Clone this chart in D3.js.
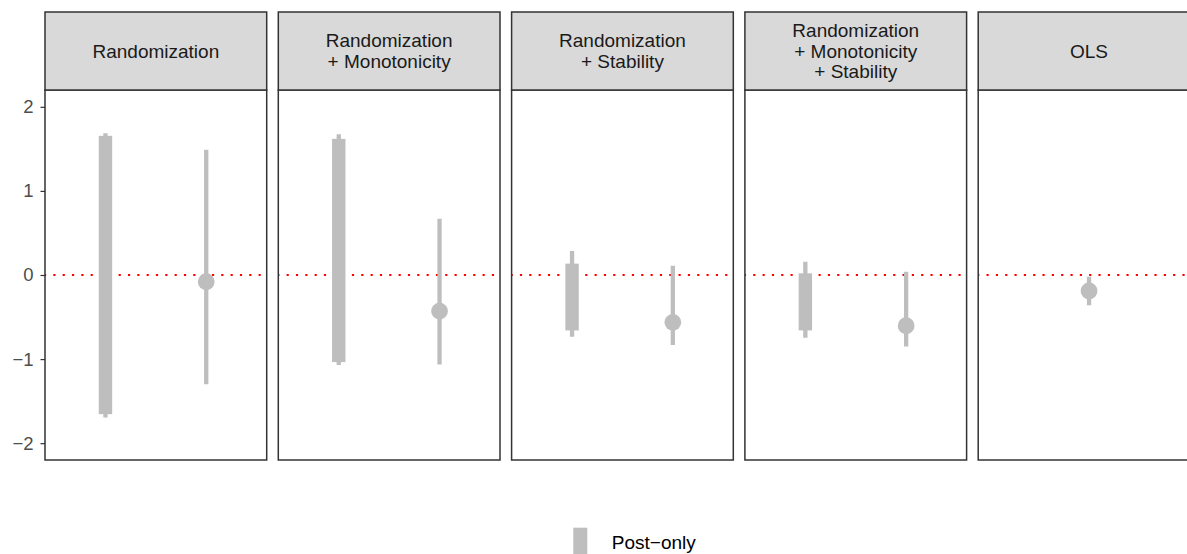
<!DOCTYPE html>
<html>
<head>
<meta charset="utf-8">
<script src="https://cdn.jsdelivr.net/npm/d3@7"></script>
<style>
  body { margin: 0; background: #fff; }
  svg { display: block; font-family: "Liberation Sans", Arial, Helvetica, sans-serif; }
</style>
</head>
<body>
<div id="chart"></div>
<script>
'use strict';

// facet labels (one line per array entry)
const methods = ['Randomization', 'Randomization + Monotonicity', 'Randomization + Stability',
    'Randomization + Monotonicity + Stability', 'OLS'];
const stripLines = [
    ['Randomization'],
    ['Randomization', '+ Monotonicity'],
    ['Randomization', '+ Stability'],
    ['Randomization', '+ Monotonicity', '+ Stability'],
    ['OLS']
];

// identified set (thick bar) and its confidence interval (thin whisker)
const boundLow = [-1.655, -1.036, -0.659, -0.659, null];
const boundHigh = [1.655, 1.619, 0.135, 0.02, null];
const boundCiLow = [-1.695, -1.071, -0.734, -0.746, null];
const boundCiHigh = [1.687, 1.675, 0.286, 0.159, null];

// point estimate with confidence interval
const pointEst = [-0.08, -0.429, -0.563, -0.603, -0.19];
const pointLow = [-1.30, -1.063, -0.833, -0.849, -0.36];
const pointHigh = [1.488, 0.67, 0.111, 0.04, -0.02];

const yTicks = [-2, -1, 0, 1, 2];
const legendLabel = 'Post\u2212only';

const width = 1187;
const height = 554;
const panel = { left: 45, top: 90, bottom: 460, width: 221.7, gap: 11.6 };
const strip = { top: 12, bottom: 90 };
const grey = '#bebebe';
const frame = '#333333';

const svg = d3.select('#chart')
    .append('svg')
    .attr('width', width)
    .attr('height', height);

const yScale = d3.scaleLinear()
    .domain([-2.2, 2.2])
    .range([panel.bottom, panel.top]);

const facetX = d3.scaleBand()
    .domain(methods)
    .range([panel.left, panel.left + methods.length * (panel.width + panel.gap)])
    .paddingInner(0);

const rows = methods.map(function (m, i) {
    return {
        method: m,
        lines: stripLines[i],
        boundLow: boundLow[i],
        boundHigh: boundHigh[i],
        boundCiLow: boundCiLow[i],
        boundCiHigh: boundCiHigh[i],
        est: pointEst[i],
        low: pointLow[i],
        high: pointHigh[i]
    };
});

const defs = svg.append('defs');

rows.forEach(function (d, i) {
    const x0 = facetX(d.method);
    const hasBounds = d.boundLow !== null;
    const xScale = d3.scalePoint()
        .domain(hasBounds ? ['bounds', 'estimate'] : ['estimate'])
        .range([0, panel.width])
        .padding(0.6);

    defs.append('clipPath')
        .attr('id', 'clip' + i)
        .append('rect')
        .attr('y', panel.top)
        .attr('width', panel.width)
        .attr('height', panel.bottom - panel.top);

    const g = svg.append('g')
        .attr('transform', `translate(${x0},${panel.top})`);

    const plot = g.append('g')
        .attr('transform', `translate(0,${-panel.top})`)
        .append('g')
        .attr('clip-path', `url(#clip${i})`);

    plot.append('line')
        .attr('x1', 0)
        .attr('x2', panel.width)
        .attr('y1', yScale(0))
        .attr('y2', yScale(0))
        .attr('stroke', '#ff0000')
        .attr('stroke-width', 2.2)
        .attr('stroke-dasharray', '2.2,7.13')
        .attr('stroke-dashoffset', -8.3);

    if (hasBounds) {
        const bx = xScale('bounds');
        plot.append('line')
            .attr('x1', bx)
            .attr('x2', bx)
            .attr('y1', yScale(d.boundCiLow))
            .attr('y2', yScale(d.boundCiHigh))
            .attr('stroke', grey)
            .attr('stroke-width', 4.3);
        plot.append('rect')
            .attr('x', bx - 6.7)
            .attr('width', 13.4)
            .attr('y', yScale(d.boundHigh))
            .attr('height', yScale(d.boundLow) - yScale(d.boundHigh))
            .attr('fill', grey);
    }

    const px = xScale('estimate');
    plot.append('line')
        .attr('x1', px)
        .attr('x2', px)
        .attr('y1', yScale(d.low))
        .attr('y2', yScale(d.high))
        .attr('stroke', grey)
        .attr('stroke-width', 4.3);
    plot.append('circle')
        .attr('cx', px)
        .attr('cy', yScale(d.est))
        .attr('r', 8.4)
        .attr('fill', grey);

    g.append('rect')
        .attr('width', panel.width)
        .attr('height', panel.bottom - panel.top)
        .attr('fill', 'none')
        .attr('stroke', frame)
        .attr('stroke-width', 1.5);

    // strip
    const s = svg.append('g')
        .attr('transform', `translate(${x0},${strip.top})`);
    const sh = strip.bottom - strip.top;
    s.append('rect')
        .attr('width', panel.width)
        .attr('height', sh)
        .attr('fill', '#d9d9d9')
        .attr('stroke', frame)
        .attr('stroke-width', 1.5);
    const lineH = 20.3;
    const firstBase = sh / 2 - (d.lines.length - 1) * lineH / 2 + 6.5;
    s.append('text')
        .attr('text-anchor', 'middle')
        .attr('fill', '#1a1a1a')
        .attr('font-size', 19)
        .selectAll('tspan')
        .data(d.lines)
        .join('tspan')
        .attr('x', panel.width / 2)
        .attr('y', function (t, k) { return firstBase + k * lineH; })
        .text(function (t) { return t; });
});

// y axis on the first panel
const yAxis = d3.axisLeft(yScale)
    .tickValues(yTicks)
    .tickFormat(d3.format('d'))
    .tickSize(4.5)
    .tickPadding(7);

const axisG = svg.append('g')
    .attr('transform', `translate(${panel.left},0)`)
    .call(yAxis);
axisG.select('.domain').remove();
axisG.selectAll('.tick line').attr('stroke', frame).attr('stroke-width', 1.2);
axisG.selectAll('.tick text')
    .attr('fill', '#4d4d4d')
    .attr('font-size', 18.5)
    .attr('font-family', '"Liberation Sans", Arial, Helvetica, sans-serif');

// legend
const legend = svg.append('g').attr('transform', 'translate(573.3,527.7)');
legend.append('rect')
    .attr('width', 14)
    .attr('height', 30)
    .attr('fill', grey);
legend.append('text')
    .attr('x', 38.5)
    .attr('y', 21)
    .attr('fill', '#000')
    .attr('font-size', 19)
    .text(legendLabel);
</script>
</body>
</html>
